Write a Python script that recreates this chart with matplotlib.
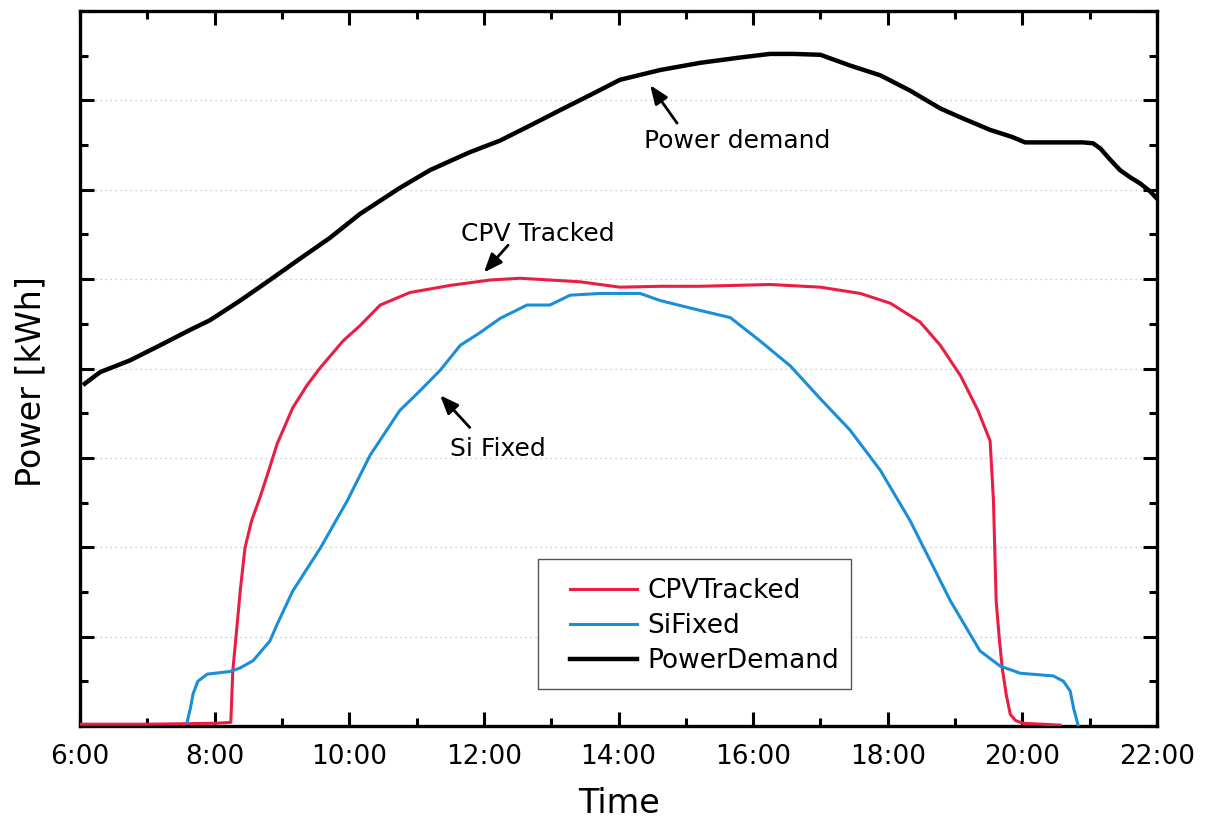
import matplotlib
matplotlib.use("Agg")
import matplotlib.pyplot as plt
from matplotlib.ticker import MultipleLocator, FuncFormatter
from matplotlib.patches import Rectangle

# ---- data (hours of day, power in arbitrary kWh units) ----
demand_h = [6.07, 6.30, 6.74, 7.19, 7.63, 7.93, 8.38, 8.82, 9.27, 9.71, 10.16, 10.75,
            11.20, 11.79, 12.24, 12.69, 13.13, 13.58, 14.02, 14.62, 15.21, 15.81, 16.25,
            16.60, 17.0, 17.44, 17.89, 18.33, 18.78, 19.08, 19.52, 19.85, 20.04, 20.56,
            20.90, 21.05, 21.16, 21.30, 21.45, 21.60, 21.75, 21.90, 22.0]
demand_v = [3.83, 3.96, 4.09, 4.26, 4.43, 4.54, 4.76, 4.99, 5.23, 5.46, 5.73, 6.02,
            6.22, 6.42, 6.55, 6.72, 6.89, 7.06, 7.23, 7.34, 7.42, 7.48, 7.52,
            7.52, 7.51, 7.39, 7.28, 7.11, 6.91, 6.81, 6.67, 6.59, 6.53, 6.53,
            6.53, 6.52, 6.46, 6.34, 6.22, 6.14, 6.07, 5.98, 5.90]

cpv_h = [6.0, 7.0, 8.0, 8.24, 8.27, 8.33, 8.38, 8.45, 8.55, 8.67, 8.80, 8.93, 9.16,
         9.37, 9.57, 9.91, 10.16, 10.46, 10.90, 11.50, 12.09, 12.54, 13.43, 14.02,
         14.62, 15.21, 16.25, 17.0, 17.59, 18.04, 18.48, 18.78, 19.08, 19.34, 19.52,
         19.57, 19.61, 19.66, 19.70, 19.76, 19.82, 19.90, 20.01, 20.56]
cpv_v = [0.02, 0.02, 0.03, 0.04, 0.62, 1.10, 1.51, 1.99, 2.30, 2.55, 2.85, 3.16, 3.56,
         3.81, 4.01, 4.31, 4.48, 4.71, 4.85, 4.93, 4.99, 5.01, 4.97, 4.91,
         4.92, 4.92, 4.94, 4.91, 4.84, 4.73, 4.52, 4.26, 3.92, 3.53, 3.19,
         2.52, 1.40, 0.95, 0.65, 0.35, 0.13, 0.06, 0.03, 0.01]

si_h = [7.59, 7.64, 7.68, 7.75, 7.89, 8.23, 8.38, 8.57, 8.82, 8.93, 9.16, 9.57, 9.97,
        10.31, 10.75, 11.05, 11.35, 11.65, 11.94, 12.24, 12.64, 12.98, 13.28, 13.73,
        14.32, 14.62, 15.21, 15.66, 16.10, 16.55, 17.0, 17.44, 17.89, 18.33, 18.93,
        19.37, 19.67, 19.97, 20.46, 20.61, 20.71, 20.76, 20.83]
si_v = [0.04, 0.20, 0.36, 0.50, 0.58, 0.61, 0.65, 0.73, 0.95, 1.14, 1.51, 1.99, 2.52,
        3.03, 3.53, 3.75, 3.98, 4.26, 4.40, 4.56, 4.71, 4.71, 4.82, 4.84,
        4.84, 4.76, 4.65, 4.57, 4.31, 4.03, 3.66, 3.31, 2.86, 2.30, 1.40,
        0.84, 0.67, 0.59, 0.56, 0.50, 0.39, 0.20, 0.0]

x_ticks = [6, 8, 10, 12, 14, 16, 18, 20, 22]

# ---- figure ----
plt.rcParams['font.family'] = ['DejaVu Sans']
fig = plt.figure(figsize=(12.05, 8.22), dpi=100)
ax = fig.add_axes([0.0664, 0.1168, 0.8938, 0.8698])

red = '#EA1D45'
blue = '#1A8ED6'

ax.plot(cpv_h, cpv_v, color=red, lw=2.2, label='CPVTracked', zorder=3)
ax.plot(si_h, si_v, color=blue, lw=2.2, label='SiFixed', zorder=3)
ax.plot(demand_h, demand_v, color='black', lw=3.2, label='PowerDemand', zorder=4)

ax.set_xlim(6, 22)
ax.set_ylim(0, 8)
ax.set_xticks(x_ticks)
ax.xaxis.set_minor_locator(MultipleLocator(1))
ax.yaxis.set_major_locator(MultipleLocator(1))
ax.yaxis.set_minor_locator(MultipleLocator(0.5))
ax.xaxis.set_major_formatter(FuncFormatter(lambda v, p: f"{int(v)}:00"))
ax.tick_params(which='both', direction='in', top=True, right=True, width=2.2)
ax.tick_params(which='major', length=10, labelsize=19, pad=13)
ax.tick_params(which='minor', length=6)
ax.tick_params(axis='y', labelleft=False)
for s in ax.spines.values():
    s.set_linewidth(2.4)

ax.yaxis.grid(True, which='major', linestyle=(0, (1, 3)), color='#bbbbbb', lw=0.9)

ax.set_xlabel('Time', fontsize=24, labelpad=12)
ax.set_ylabel('Power [kWh]', fontsize=24)
ax.yaxis.set_label_coords(-0.030, 0.482)

arrow_kw = dict(arrowstyle='-|>,head_length=0.7,head_width=0.28', color='black',
                lw=2.0, mutation_scale=16, shrinkA=0, shrinkB=0)
txt_kw = dict(fontsize=18, ha='center', va='center')

ax.annotate('', xy=(14.47, 7.17), xytext=(14.87, 6.745), arrowprops=arrow_kw)
ax.text(15.76, 6.55, 'Power demand', **txt_kw)
ax.annotate('', xy=(12.0, 5.075), xytext=(12.36, 5.38), arrowprops=arrow_kw)
ax.text(12.80, 5.50, 'CPV Tracked', **txt_kw)
ax.annotate('', xy=(11.35, 3.70), xytext=(11.79, 3.34), arrowprops=arrow_kw)
ax.text(12.21, 3.10, 'Si Fixed', **txt_kw)

# legend box (drawn separately to reproduce its asymmetric padding)
ax.add_patch(Rectangle((0.425, 0.052), 0.291, 0.182, transform=ax.transAxes,
                       facecolor='white', edgecolor='#555555', lw=1.0, zorder=5))
leg = ax.legend(loc='upper left', bbox_to_anchor=(0.455, 0.207), fontsize=19,
                frameon=False, handlelength=2.55, handletextpad=0.38,
                labelspacing=0.34, borderpad=0, borderaxespad=0)
leg.set_zorder(6)

fig.savefig('out.png', dpi=100)
